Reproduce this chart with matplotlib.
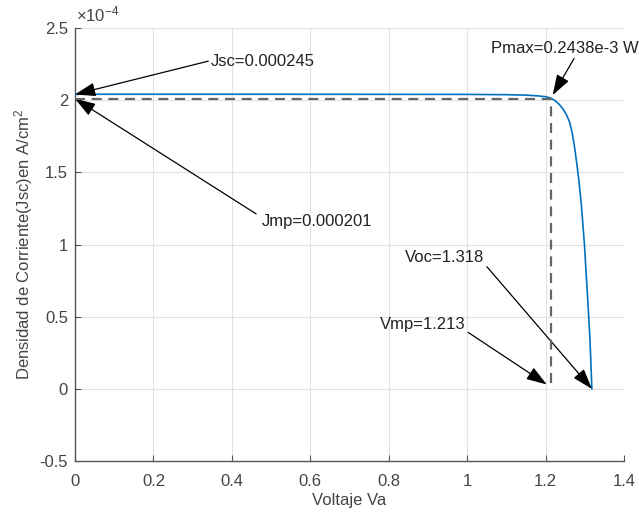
import matplotlib
matplotlib.use("Agg")
import matplotlib.pyplot as plt

plt.rcParams['font.family'] = ['Liberation Sans', 'DejaVu Sans']
plt.rcParams['mathtext.fontset'] = 'custom'
plt.rcParams['mathtext.rm'] = 'Liberation Sans'
plt.rcParams['mathtext.it'] = 'Liberation Sans:italic'

# J-V curve of the cell (voltage in V, current density in A/cm^2)
voltage = [0.0, 0.5, 1.0, 1.10, 1.15, 1.18, 1.20, 1.213, 1.225, 1.235, 1.244,
           1.253, 1.261, 1.268, 1.274, 1.280, 1.285, 1.291, 1.299, 1.308,
           1.313, 1.318]
current = [2.041e-4, 2.041e-4, 2.040e-4, 2.038e-4, 2.035e-4, 2.030e-4,
           2.024e-4, 2.015e-4, 1.995e-4, 1.970e-4, 1.940e-4, 1.900e-4,
           1.850e-4, 1.770e-4, 1.670e-4, 1.550e-4, 1.440e-4, 1.280e-4,
           1.000e-4, 0.590e-4, 0.350e-4, 0.0]

Jsc = 0.000245
Jmp = 0.000201
Vmp = 1.213
Voc = 1.318
Pmax_label = "0.2438e-3"

scale = 1e-4
xticks = [0, 0.2, 0.4, 0.6, 0.8, 1.0, 1.2, 1.4]
xticklabels = ["0", "0.2", "0.4", "0.6", "0.8", "1", "1.2", "1.4"]
yticks = [-0.5, 0, 0.5, 1, 1.5, 2, 2.5]
yticklabels = ["-0.5", "0", "0.5", "1", "1.5", "2", "2.5"]

fig = plt.figure(figsize=(6.39, 5.14), dpi=100)
ax = fig.add_axes([0.1174, 0.1031, 0.8592, 0.8424])

axis_col = '#444444'
fs = 12
ax.plot(voltage, [c / scale for c in current], color='#0072BD', lw=1.2, zorder=3)
ax.plot([0, Vmp, Vmp], [Jmp / scale, Jmp / scale, 0], color='#666666',
        lw=1.6, ls=(0, (4.5, 3)), zorder=4)

ax.set_xlim(0, 1.4)
ax.set_ylim(-0.5, 2.5)
ax.set_xticks(xticks)
ax.set_xticklabels(xticklabels)
ax.set_yticks(yticks)
ax.set_yticklabels(yticklabels)
ax.grid(True, color='#e1e1e1', lw=0.8)
ax.set_axisbelow(True)
for s in ['top', 'right']:
    ax.spines[s].set_visible(False)
for s in ['left', 'bottom']:
    ax.spines[s].set_color('#555555')
    ax.spines[s].set_linewidth(1.0)
ax.tick_params(direction='in', length=4, colors='#555555', labelcolor=axis_col,
               labelsize=fs, width=0.8)
ax.tick_params(axis='x', pad=9)
ax.tick_params(axis='y', pad=5)

ax.set_xlabel("Voltaje Va", fontsize=fs, color=axis_col, labelpad=3)
ax.set_ylabel("Densidad de Corriente(Jsc)en A/cm$^2$", fontsize=fs,
              color=axis_col, labelpad=3)
ax.text(0.002, 1.008, r"$\times10^{-4}$", transform=ax.transAxes, fontsize=fs,
        color=axis_col, va='bottom', ha='left')

arrow = dict(arrowstyle='-|>,head_length=0.9,head_width=0.3', color='black',
             lw=0.9, shrinkA=0, shrinkB=0, mutation_scale=14)

ax.annotate(f"Jsc={Jsc:.6f}", xy=(0.0, 2.04), xytext=(0.347, 2.265),
            fontsize=fs, color='#222222', va='center', ha='left',
            arrowprops=dict(arrow, relpos=(0, 0.6)))
ax.annotate(f"Jmp={Jmp:.6f}", xy=(0.0, Jmp / scale), xytext=(0.476, 1.16),
            fontsize=fs, color='#222222', va='center', ha='left',
            arrowprops=dict(arrow, relpos=(-0.05, 1.0)))
ax.annotate(f"Pmax={Pmax_label} W", xy=(1.218, 2.035), xytext=(1.062, 2.36),
            fontsize=fs, color='#222222', va='center', ha='left',
            arrowprops=dict(arrow, relpos=(0.57, 0.0)))
ax.annotate(f"Voc={Voc:.3f}", xy=(Voc, 0.0), xytext=(0.841, 0.908),
            fontsize=fs, color='#222222', va='center', ha='left',
            arrowprops=dict(arrow, relpos=(1.02, 0.0)))
ax.annotate(f"Vmp={Vmp:.3f}", xy=(1.203, 0.03), xytext=(0.777, 0.448),
            fontsize=fs, color='#222222', va='center', ha='left',
            arrowprops=dict(arrow, relpos=(1.02, 0.0)))

fig.savefig("out.png", dpi=100)
